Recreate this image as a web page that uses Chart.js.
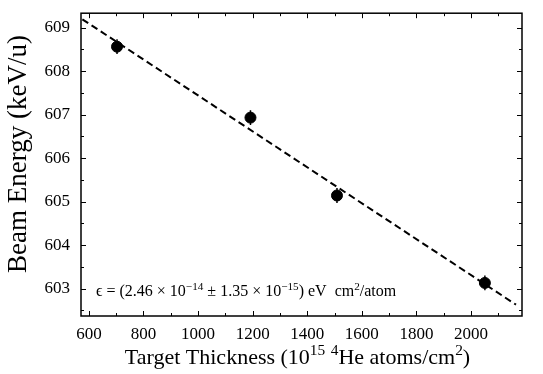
<!DOCTYPE html>
<html lang="en">
<head>
    <meta charset="UTF-8">
    <title>Beam Energy vs Target Thickness</title>
    <script src="https://cdn.jsdelivr.net/npm/chart.js"></script>
    <style>
        body { margin: 0; padding: 0; background: white; }
        .wrap { width: 543px; height: 374px; position: relative; }
    </style>
</head>
<body>
    <div class="wrap"><canvas id="energyChart"></canvas></div>

    <script>
        // data
        const thickness = [703, 1192, 1509, 2051];
        const energy = [608.56, 606.93, 605.14, 603.13];
        const energyErr = [0.17, 0.17, 0.17, 0.17];
        const fitX = [576, 2165];
        const fitY = [609.19, 602.63];

        const xTicks = [600, 800, 1000, 1200, 1400, 1600, 1800, 2000];
        const xMinor = [700, 900, 1100, 1300, 1500, 1700, 1900, 2100];
        const yTicks = [603, 604, 605, 606, 607, 608, 609];
        const yMinor = [602.5, 603.5, 604.5, 605.5, 606.5, 607.5, 608.5];

        const serif = "'Liberation Serif', 'DejaVu Serif', serif";
        Chart.defaults.font.family = serif;
        Chart.defaults.color = '#000';

        // draws text pieces, some raised as superscripts
        function richText(ctx, parts, x, y, size, align) {
            const sup = size * 0.7;
            let total = 0;
            parts.forEach(p => {
                ctx.font = (p[1] ? sup : size) + 'px ' + serif;
                total += ctx.measureText(p[0]).width;
            });
            let cx = align === 'center' ? x - total / 2 : x;
            ctx.textAlign = 'left';
            ctx.textBaseline = 'alphabetic';
            parts.forEach(p => {
                ctx.font = (p[1] ? sup : size) + 'px ' + serif;
                ctx.fillText(p[0], cx, p[1] ? y - size * 0.4 : y);
                cx += ctx.measureText(p[0]).width;
            });
        }

        const framePlugin = {
            id: 'frame',
            beforeDatasetsDraw(chart) {
                const ctx = chart.ctx, xs = chart.scales.x, ys = chart.scales.y;
                ctx.save();
                ctx.strokeStyle = '#000';
                ctx.lineWidth = 1.5;
                thickness.forEach((t, i) => {
                    const px = xs.getPixelForValue(t);
                    ctx.beginPath();
                    ctx.moveTo(px, ys.getPixelForValue(energy[i] + energyErr[i]));
                    ctx.lineTo(px, ys.getPixelForValue(energy[i] - energyErr[i]));
                    ctx.stroke();
                });
                ctx.restore();
            },
            afterDraw(chart) {
                const ctx = chart.ctx, a = chart.chartArea;
                const xs = chart.scales.x, ys = chart.scales.y;
                ctx.save();
                ctx.strokeStyle = '#000';
                ctx.fillStyle = '#000';

                // inward ticks on all four sides
                ctx.lineWidth = 1;
                ctx.beginPath();
                const xt = (v, len) => {
                    const p = Math.round(xs.getPixelForValue(v)) + 0.5;
                    ctx.moveTo(p, a.bottom); ctx.lineTo(p, a.bottom - len);
                    ctx.moveTo(p, a.top); ctx.lineTo(p, a.top + len);
                };
                const yt = (v, len) => {
                    const p = Math.round(ys.getPixelForValue(v)) + 0.5;
                    ctx.moveTo(a.left, p); ctx.lineTo(a.left + len, p);
                    ctx.moveTo(a.right, p); ctx.lineTo(a.right - len, p);
                };
                xTicks.forEach(v => xt(v, 5));
                xMinor.forEach(v => xt(v, 3));
                yTicks.forEach(v => yt(v, 5));
                yMinor.forEach(v => yt(v, 3));
                ctx.stroke();

                ctx.lineWidth = 1.5;
                ctx.strokeRect(a.left, a.top, a.right - a.left, a.bottom - a.top);

                // axis titles
                richText(ctx, [['Target Thickness (10', 0], ['15', 1], [' ', 0], ['4', 1],
                    ['He atoms/cm', 0], ['2', 1], [')', 0]], (a.left + a.right) / 2 - 4, 364, 22, 'center');

                ctx.save();
                ctx.translate(26, 154);
                ctx.rotate(-Math.PI / 2);
                ctx.font = '27px ' + serif;
                ctx.textAlign = 'center';
                ctx.fillText('Beam Energy (keV/u)', 0, 0);
                ctx.restore();

                // fit result
                richText(ctx, [['\u03F5 = (2.46 \u00D7 10', 0], ['\u221214', 1], [' \u00B1 1.35 \u00D7 10', 0],
                    ['\u221215', 1], [') eV  cm', 0], ['2', 1], ['/atom', 0]], a.left + 15, 296, 16, 'left');
                ctx.restore();
            }
        };

        new Chart(document.getElementById('energyChart'), {
            type: 'scatter',
            data: {
                datasets: [{
                    label: 'Data',
                    data: thickness.map((t, i) => ({ x: t, y: energy[i] })),
                    backgroundColor: '#000',
                    borderColor: '#000',
                    pointRadius: 5.5,
                    pointHoverRadius: 5.5
                }, {
                    label: 'Fit',
                    type: 'line',
                    data: fitX.map((t, i) => ({ x: t, y: fitY[i] })),
                    borderColor: '#000',
                    borderWidth: 2,
                    borderDash: [7, 4],
                    pointRadius: 0,
                    fill: false
                }]
            },
            plugins: [framePlugin],
            options: {
                responsive: true,
                maintainAspectRatio: false,
                animation: false,
                layout: { padding: { top: 5, right: 21, left: 0, bottom: 0 } },
                plugins: { legend: { display: false }, tooltip: { enabled: false } },
                scales: {
                    x: {
                        type: 'linear',
                        min: 571,
                        max: 2187,
                        grid: { display: false },
                        border: { display: false },
                        ticks: { font: { size: 17 }, padding: 0, maxRotation: 0, callback: v => String(v) },
                        afterBuildTicks: s => { s.ticks = xTicks.map(v => ({ value: v })); },
                        afterFit: s => { s.height = 58; }
                    },
                    y: {
                        min: 602.37,
                        max: 609.33,
                        grid: { display: false },
                        border: { display: false },
                        ticks: { font: { size: 17 }, padding: 3, callback: v => String(v) },
                        afterBuildTicks: s => { s.ticks = yTicks.map(v => ({ value: v })); },
                        afterFit: s => { s.width = 81; }
                    }
                }
            }
        });
    </script>
</body>
</html>
